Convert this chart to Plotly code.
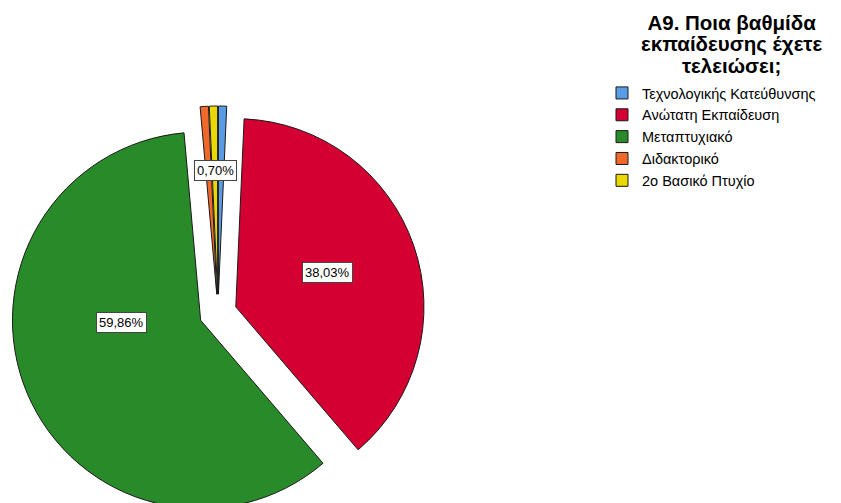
import plotly.graph_objects as go

categories = ["Τεχνολογικής Κατεύθυνσης", "Ανώτατη Εκπαίδευση", "Μεταπτυχιακό", "Διδακτορικό", "2ο Βασικό Πτυχίο"]
counts = [1, 54, 85, 1, 1]
colors = ["#5A9BE6", "#D50032", "#298A2A", "#F0692A", "#EAD800"]
legend_title_lines = ["A9. Ποια βαθμίδα", "εκπαίδευσης έχετε", "τελειώσει;"]

OFF = 8          # page body margin
W, H = 841 - OFF, 512
total = sum(counts)
pcts = [c / total * 100 for c in counts]

def fmt(p):
    return f"{p:.2f}%".replace(".", ",")

def px_x(x):
    return (x - OFF) / W

def px_y(y):
    return 1 - (y - OFF) / H

FONT = "Liberation Sans, Arial"

fig = go.Figure()
fig.add_trace(go.Pie(
    labels=categories,
    values=counts,
    sort=False,
    direction="clockwise",
    rotation=0,
    pull=[0.1] * len(counts),
    marker=dict(colors=colors, line=dict(color="#1a1a1a", width=1)),
    textinfo="none",
    hoverinfo="label+percent",
    domain=dict(x=[px_x(11), px_x(425)], y=[0, px_y(106)]),
))

# label boxes (one per distinct label shown)
label_pos = {1: (327, 272), 2: (121, 322), 4: (215, 170)}
for i, (x, y) in label_pos.items():
    fig.add_annotation(
        x=px_x(x), y=px_y(y), xref="paper", yref="paper",
        xanchor="center", yanchor="middle",
        text=fmt(pcts[i]), showarrow=False,
        font=dict(family=FONT, size=13, color="#000"),
        bgcolor="#ffffff", bordercolor="#444444", borderwidth=1, borderpad=2,
    )

# legend title (centered, tight lines)
title_text = "<br>".join(
    f'<span style="font-size:20.5px"><b>{line}</b></span>' for line in legend_title_lines
)
fig.add_annotation(
    x=px_x(732), y=px_y(44), xref="paper", yref="paper",
    xanchor="center", yanchor="middle", align="center",
    text=title_text, showarrow=False,
    font=dict(family=FONT, size=16.5, color="#000"),
)

fig.update_layout(
    width=W, height=H,
    margin=dict(l=0, r=0, t=0, b=0),
    paper_bgcolor="#ffffff", plot_bgcolor="#ffffff",
    font=dict(family=FONT, color="#000"),
    legend=dict(
        x=px_x(602), y=px_y(77), xanchor="left", yanchor="top",
        font=dict(family=FONT, size=14.5, color="#000"),
        traceorder="normal",
        bgcolor="rgba(0,0,0,0)",
    ),
    showlegend=True,
)

fig.write_html("out.html")
